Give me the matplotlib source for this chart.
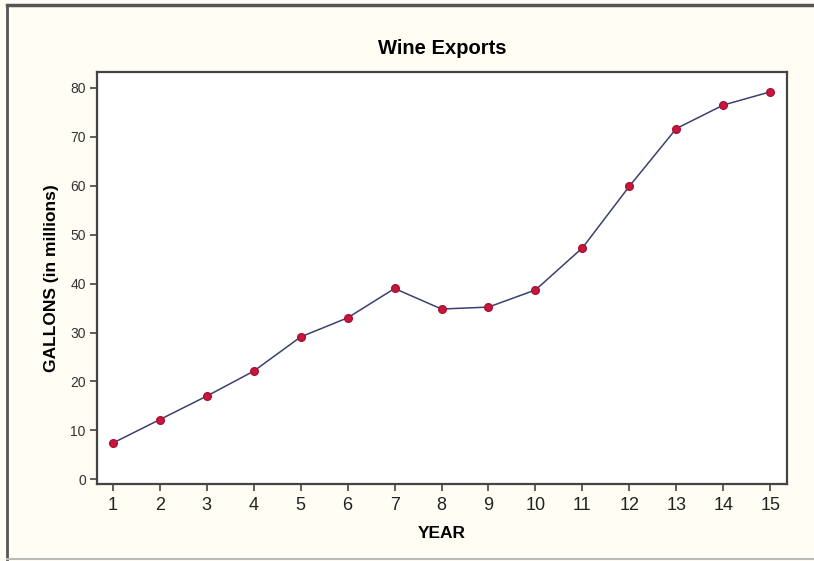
import matplotlib
matplotlib.use("Agg")
import matplotlib.pyplot as plt
from matplotlib.lines import Line2D

# data
years = [1, 2, 3, 4, 5, 6, 7, 8, 9, 10, 11, 12, 13, 14, 15]
gallons = [7.4, 12.2, 17.0, 22.1, 29.1, 33.0, 39.0, 34.8, 35.2, 38.7, 47.3, 59.9, 71.7, 76.5, 79.2]
yticks = [0, 10, 20, 30, 40, 50, 60, 70, 80]

plt.rcParams['font.family'] = ['Liberation Sans', 'DejaVu Sans']

bg = '#fffdf4'
fig = plt.figure(figsize=(8.14, 5.61), dpi=100, facecolor=bg)
ax = fig.add_axes([0.119, 0.137, 0.848, 0.735])
ax.set_facecolor('white')

ax.plot(years, gallons, color='#3b4070', linewidth=1.1, zorder=2)
ax.plot(years, gallons, linestyle='none', marker='o', markersize=5.5,
        color='#c8163f', markeredgecolor='#a81030', zorder=3)

ax.set_xlim(0.66, 15.36)
ax.set_ylim(-1.0, 83.3)
ax.set_xticks(years)
ax.set_yticks(yticks)

for s in ax.spines.values():
    s.set_color('#444444')
    s.set_linewidth(1.6)

ax.tick_params(axis='both', direction='out', length=5, width=1.2, color='#444444')
ax.tick_params(axis='x', labelsize=13, labelcolor='#222222', pad=4)
ax.tick_params(axis='y', labelsize=10, labelcolor='#333333', pad=3)

ax.set_title('Wine Exports', fontsize=14.5, fontweight='bold', pad=13)
ax.set_xlabel('YEAR', fontsize=12.5, fontweight='bold', labelpad=9)
ax.set_ylabel('GALLONS (in millions)', fontsize=12.5, fontweight='bold', labelpad=8)

# outer frame of the original screenshot
fig.add_artist(Line2D([0.008, 1.0], [0.991, 0.991], color='#555555', linewidth=2.5, transform=fig.transFigure))
fig.add_artist(Line2D([0.009, 0.009], [0.004, 0.991], color='#555555', linewidth=2.0, transform=fig.transFigure))
fig.add_artist(Line2D([0.008, 1.0], [0.004, 0.004], color='#bbbbbb', linewidth=1.5, transform=fig.transFigure))

fig.savefig('out.png', dpi=100, facecolor=bg)
